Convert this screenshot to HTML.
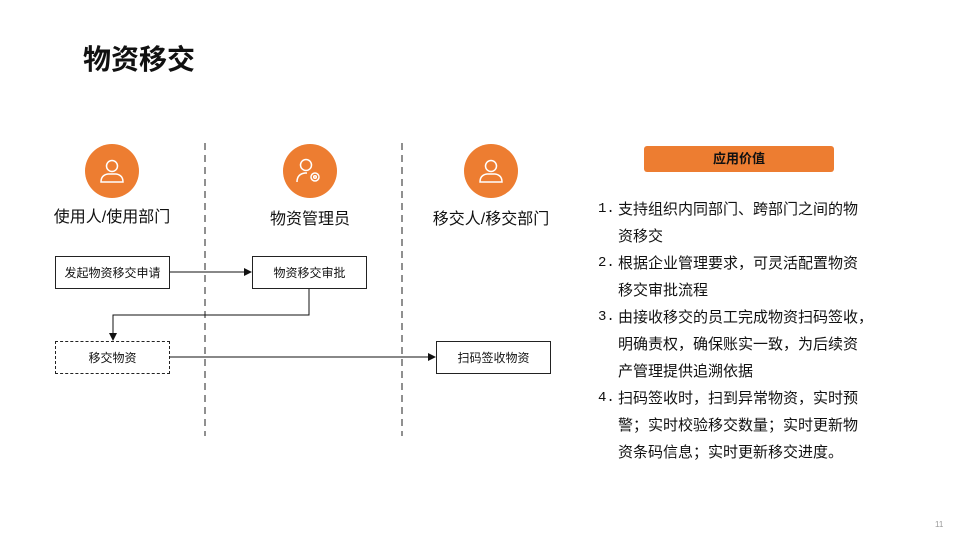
<!DOCTYPE html>
<html><head><meta charset="utf-8"><style>
body{margin:0;width:960px;height:540px;background:#fff;position:relative;overflow:hidden;font-family:"Liberation Sans","Noto Sans CJK SC",sans-serif;color:#111}
.a{position:absolute}
.box{position:absolute;border:1px solid #222;box-sizing:border-box;font-size:12px;display:flex;align-items:center;justify-content:center;background:#fff}
.lbl{position:absolute;font-size:16px;text-align:center;width:200px}
.li{position:absolute;left:598px;font-size:15px;line-height:27px;white-space:nowrap}
.li span{position:absolute;left:0;font-family:"Liberation Mono",monospace;font-size:14px}
.li div{padding-left:20px}
</style></head><body>
<div class="a" style="left:83px;top:38px;font-size:28px;font-weight:bold">物资移交</div>
<svg class="a" style="left:0;top:0" width="960" height="540">
<defs><marker id="ar" markerWidth="8" markerHeight="8" refX="7" refY="4" orient="auto" markerUnits="userSpaceOnUse"><path d="M0,0 L8,4 L0,8z" fill="#111"/></marker></defs>
<line x1="205" y1="143" x2="205" y2="436" stroke="#222" stroke-dasharray="7,5"/>
<line x1="402" y1="143" x2="402" y2="436" stroke="#222" stroke-dasharray="7,5"/>
<circle cx="112" cy="171" r="27" fill="#ed7d31"/>
<circle cx="310" cy="171" r="27" fill="#ed7d31"/>
<circle cx="491" cy="171" r="27" fill="#ed7d31"/>
<g fill="none" stroke="#fff" stroke-width="1.5">
<circle cx="112" cy="166" r="5.5"/><path d="M101,182 q0,-7 7,-8 h8 q7,1 7,8 z"/>
<circle cx="491" cy="166" r="5.5"/><path d="M480,182 q0,-7 7,-8 h8 q7,1 7,8 z"/>
<circle cx="306" cy="165" r="5.5"/><path d="M297,182 q0,-8 8,-9 h2"/><circle cx="315" cy="177" r="4"/><circle cx="315" cy="177" r="1.3"/>
</g>
<path d="M169,272 H251" stroke="#111" marker-end="url(#ar)"/>
<path d="M309,288 V315 H113 V340" stroke="#111" fill="none" marker-end="url(#ar)"/>
<path d="M169,357 H435" stroke="#111" marker-end="url(#ar)"/>
</svg>
<div class="lbl" style="left:12px;top:203px">使用人/使用部门</div>
<div class="lbl" style="left:210px;top:205px">物资管理员</div>
<div class="lbl" style="left:391px;top:205px">移交人/移交部门</div>
<div class="box" style="left:55px;top:256px;width:115px;height:33px">发起物资移交申请</div>
<div class="box" style="left:252px;top:256px;width:115px;height:33px">物资移交审批</div>
<div class="box" style="left:55px;top:341px;width:115px;height:33px;border-style:dashed">移交物资</div>
<div class="box" style="left:436px;top:341px;width:115px;height:33px">扫码签收物资</div>
<div class="a" style="left:644px;top:146px;width:190px;height:26px;background:#ed7d31;border-radius:3px;font-size:13px;font-weight:bold;text-align:center;line-height:26px">应用价值</div>
<div class="li" style="top:196px"><span>1.</span><div>支持组织内同部门、跨部门之间的物<br>资移交</div></div>
<div class="li" style="top:250px"><span>2.</span><div>根据企业管理要求，可灵活配置物资<br>移交审批流程</div></div>
<div class="li" style="top:304px"><span>3.</span><div>由接收移交的员工完成物资扫码签收，<br>明确责权，确保账实一致，为后续资<br>产管理提供追溯依据</div></div>
<div class="li" style="top:385px"><span>4.</span><div>扫码签收时，扫到异常物资，实时预<br>警；实时校验移交数量；实时更新物<br>资条码信息；实时更新移交进度。</div></div>
<div class="a" style="left:935px;top:520px;font-size:8px;color:#999">11</div>
</body></html>
